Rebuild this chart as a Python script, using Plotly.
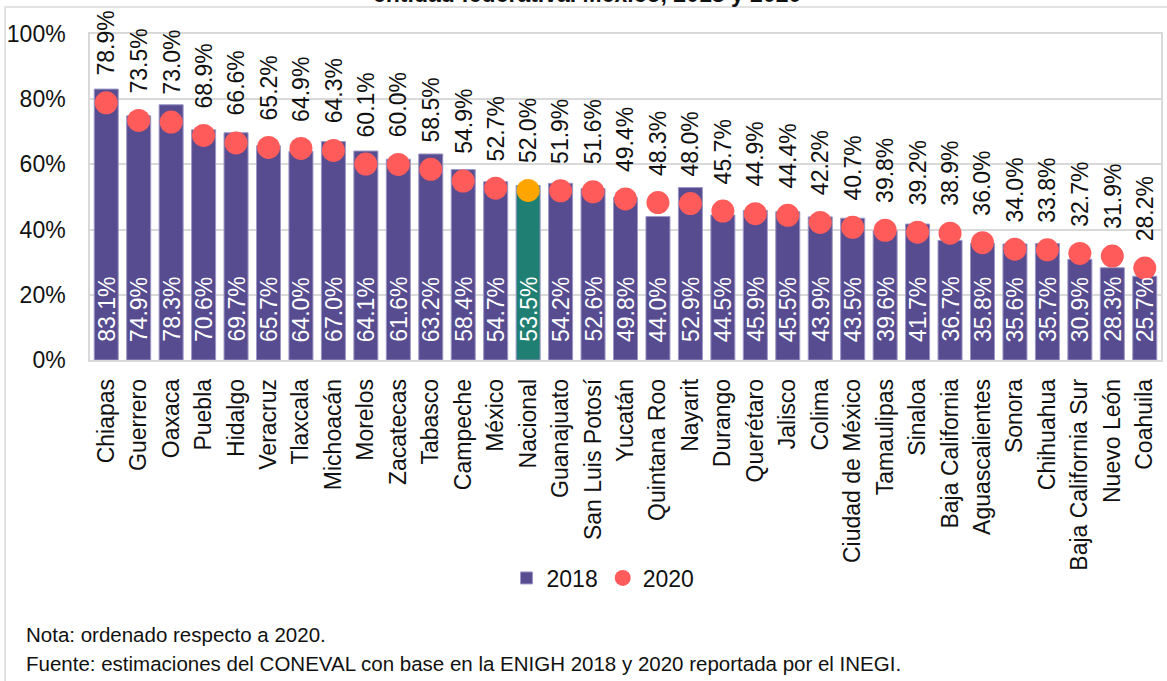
import plotly.graph_objects as go

categorias = ["Chiapas", "Guerrero", "Oaxaca", "Puebla", "Hidalgo", "Veracruz", "Tlaxcala",
              "Michoacán", "Morelos", "Zacatecas", "Tabasco", "Campeche", "México", "Nacional",
              "Guanajuato", "San Luis Potosí", "Yucatán", "Quintana Roo", "Nayarit", "Durango",
              "Querétaro", "Jalisco", "Colima", "Ciudad de México", "Tamaulipas", "Sinaloa",
              "Baja California", "Aguascalientes", "Sonora", "Chihuahua", "Baja California Sur",
              "Nuevo León", "Coahuila"]
valores_2018 = [83.1, 74.9, 78.3, 70.6, 69.7, 65.7, 64.0, 67.0, 64.1, 61.6, 63.2, 58.4, 54.7, 53.5,
                54.2, 52.6, 49.8, 44.0, 52.9, 44.5, 45.9, 45.5, 43.9, 43.5, 39.6, 41.7, 36.7, 35.8,
                35.6, 35.7, 30.9, 28.3, 25.7]
valores_2020 = [78.9, 73.5, 73.0, 68.9, 66.6, 65.2, 64.9, 64.3, 60.1, 60.0, 58.5, 54.9, 52.7, 52.0,
                51.9, 51.6, 49.4, 48.3, 48.0, 45.7, 44.9, 44.4, 42.2, 40.7, 39.8, 39.2, 38.9, 36.0,
                34.0, 33.8, 32.7, 31.9, 28.2]
y_ticks = [0, 20, 40, 60, 80, 100]
destacado = "Nacional"

FONT = "Liberation Sans, Arial, sans-serif"
PURPLE = "#564C8F"
RED = "#FF5B5B"
TEAL = "#1F7F73"
ORANGE = "#FFA500"

W, H = 1167, 681
L, R, T, B = 90, 4, 34, 321
PW, PH = W - L - R, H - T - B

def px_x(px):
    return (px - L) / PW

def px_y(py):
    return (H - B - py) / PH

bar_colors = [TEAL if c == destacado else PURPLE for c in categorias]
dot_colors = [ORANGE if c == destacado else RED for c in categorias]

fig = go.Figure()
fig.add_trace(go.Bar(
    x=categorias, y=valores_2018, name="2018",
    marker=dict(color=bar_colors, line=dict(color="#9C97C6", width=1)),
    hoverinfo="skip",
))
fig.add_trace(go.Scatter(
    x=categorias, y=valores_2020, name="2020", mode="markers",
    marker=dict(color=dot_colors, size=23),
    hoverinfo="skip",
))

annotations = []
for c, v18, v20 in zip(categorias, valores_2018, valores_2020):
    annotations.append(dict(
        x=c, y=v20, xref="x", yref="y", text=f"{v20:.1f}%", textangle=-90,
        showarrow=False, yanchor="bottom", xanchor="center", yshift=25,
        font=dict(family=FONT, size=23, color="#111111"),
    ))
    annotations.append(dict(
        x=c, y=0, xref="x", yref="y", text=f"{v18:.1f}%", textangle=-90,
        showarrow=False, yanchor="bottom", xanchor="center", yshift=16,
        font=dict(family=FONT, size=23, color="#FFFFFF"),
    ))

annotations.append(dict(
    xref="paper", yref="paper", x=px_x(588), y=px_y(9), xanchor="center", yanchor="bottom",
    text="<b>entidad federativa. México, 2018 y 2020</b>", showarrow=False,
    font=dict(family=FONT, size=23, color="#111111"),
))
annotations.append(dict(
    xref="paper", yref="paper", x=px_x(24), y=px_y(634), xanchor="left", yanchor="middle",
    text="Nota: ordenado respecto a 2020.", showarrow=False,
    font=dict(family=FONT, size=20.5, color="#111111"),
))
annotations.append(dict(
    xref="paper", yref="paper", x=px_x(24), y=px_y(663), xanchor="left", yanchor="middle",
    text="Fuente: estimaciones del CONEVAL con base en la ENIGH 2018 y 2020 reportada por el INEGI.",
    showarrow=False, font=dict(family=FONT, size=20.5, color="#111111"),
))

shapes = [dict(
    type="rect", xref="paper", yref="paper",
    x0=px_x(5), x1=px_x(W + 20), y0=px_y(H + 20), y1=px_y(7),
    line=dict(color="#D9D9D9", width=1.5), fillcolor="rgba(0,0,0,0)", layer="below",
)]

fig.update_layout(
    width=W, height=H,
    margin=dict(l=L, r=R, t=T, b=B),
    paper_bgcolor="white", plot_bgcolor="white",
    font=dict(family=FONT, size=23, color="#111111"),
    bargap=0.26,
    showlegend=True,
    legend=dict(orientation="h", x=px_x(604), y=px_y(578), xanchor="center", yanchor="middle",
                font=dict(family=FONT, size=23, color="#111111"), itemwidth=30,
                bgcolor="rgba(0,0,0,0)"),
    annotations=annotations,
    shapes=shapes,
)
fig.update_xaxes(
    type="category", range=[-0.5, len(categorias) - 0.5], tickangle=-90,
    showline=True, linecolor="#D9D9D9", linewidth=1.5,
    mirror=True, ticks="", ticklabelstandoff=8,
    tickfont=dict(family=FONT, size=23, color="#111111"),
)
fig.update_yaxes(
    range=[0, 100], tickvals=y_ticks, ticktext=[f"{t}%" for t in y_ticks],
    showgrid=True, gridcolor="#D9D9D9", gridwidth=1.5, zeroline=False,
    showline=True, linecolor="#D9D9D9", linewidth=1.5, mirror=True,
    ticks="", ticklabelstandoff=18,
    tickfont=dict(family=FONT, size=23, color="#111111"),
)

fig.write_html(
    "out.html",
    config={"displayModeBar": False},
    post_script="document.body.style.margin='0';document.body.style.overflow='hidden';",
)
